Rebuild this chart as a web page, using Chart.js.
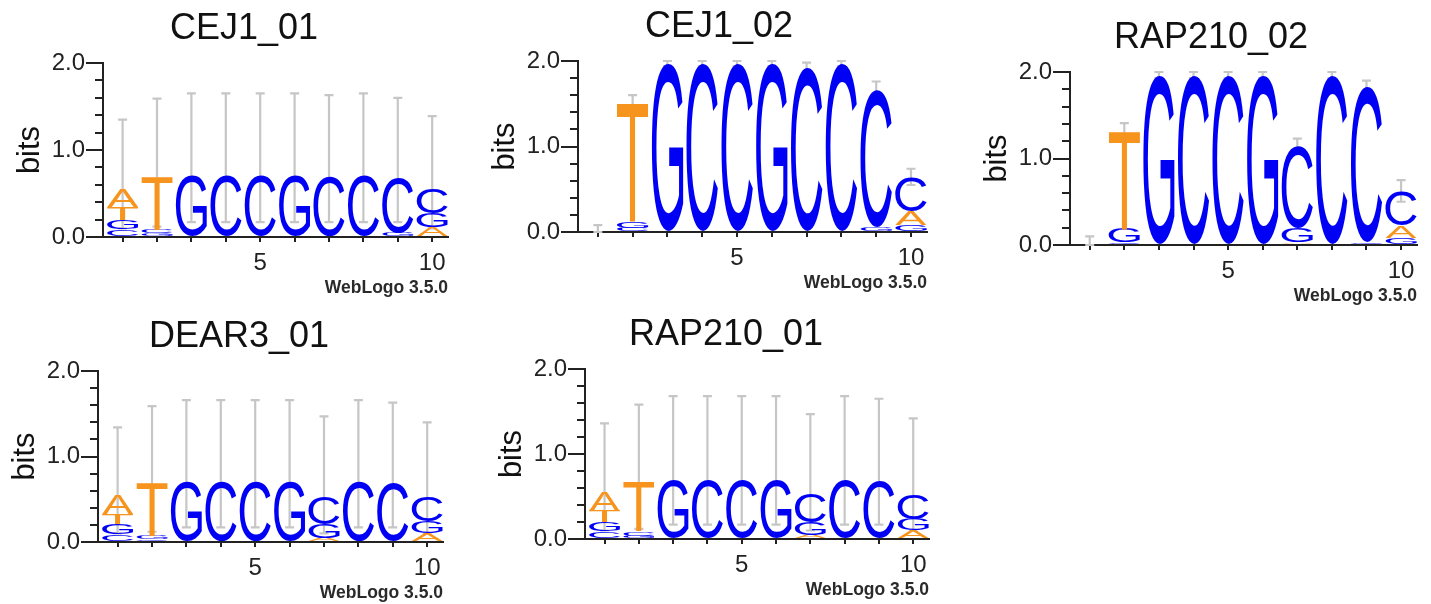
<!DOCTYPE html>
<html><head><meta charset="utf-8">
<script src="https://cdn.jsdelivr.net/npm/chart.js@4.4.1/dist/chart.umd.min.js"></script>
<style>
html,body{margin:0;padding:0;background:#fff;}
body{width:1431px;height:604px;position:relative;overflow:hidden;}
canvas{position:absolute;}
</style></head><body>
<canvas id="c1"></canvas><canvas id="c2"></canvas><canvas id="c3"></canvas><canvas id="c4"></canvas><canvas id="c5"></canvas>
<script>
// ---------- data ----------
const POSITIONS = [1, 2, 3, 4, 5, 6, 7, 8, 9, 10];
const X_TICK_LABELS = ['', '', '', '', '5', '', '', '', '', '10'];
const Y_MAJOR_TICKS = [0.0, 1.0, 2.0];
const Y_TICK_LABELS = ['0.0', '1.0', '2.0'];
const Y_MINOR_TICKS = [0.0, 0.2, 0.4, 0.6, 0.8, 1.0, 1.2, 1.4, 1.6, 1.8, 2.0];
const LETTERS = ['A', 'C', 'G', 'T'];
const TITLES = ['CEJ1_01', 'CEJ1_02', 'RAP210_02', 'DEAR3_01', 'RAP210_01'];
const FOOTER = 'WebLogo 3.5.0';
const Y_LABEL = 'bits';

// CEJ1_01
const CEJ1_01_A = [0.20, 0.01, 0.00, 0.00, 0.00, 0.00, 0.00, 0.00, 0.01, 0.11];
const CEJ1_01_C = [0.09, 0.04, 0.01, 0.71, 0.71, 0.00, 0.69, 0.71, 0.63, 0.29];
const CEJ1_01_G = [0.11, 0.03, 0.70, 0.00, 0.00, 0.71, 0.00, 0.00, 0.04, 0.16];
const CEJ1_01_T = [0.14, 0.60, 0.00, 0.00, 0.00, 0.00, 0.00, 0.00, 0.00, 0.00];
const CEJ1_01_ERR_LO = [0.10, 0.12, 0.17, 0.17, 0.17, 0.17, 0.17, 0.17, 0.17, 0.10];
const CEJ1_01_ERR_HI = [1.35, 1.59, 1.65, 1.65, 1.65, 1.65, 1.63, 1.65, 1.60, 1.39];

// CEJ1_02
const CEJ1_02_A = [0.005, 0.00, 0.00, 0.00, 0.00, 0.00, 0.00, 0.00, 0.01, 0.16];
const CEJ1_02_C = [0.005, 0.05, 0.00, 1.97, 1.97, 0.00, 1.93, 1.97, 1.60, 0.40];
const CEJ1_02_G = [0.005, 0.07, 1.97, 0.00, 0.00, 1.97, 0.00, 0.00, 0.05, 0.08];
const CEJ1_02_T = [0.005, 1.39, 0.00, 0.00, 0.00, 0.00, 0.00, 0.00, 0.00, 0.00];
const CEJ1_02_ERR_LO = [0.00, 1.44, 1.94, 1.94, 1.94, 1.94, 1.88, 1.94, 1.57, 0.55];
const CEJ1_02_ERR_HI = [0.08, 1.60, 2.00, 2.00, 2.00, 2.00, 1.98, 2.00, 1.76, 0.74];

// RAP210_02
const RAP210_02_A = [0.005, 0.00, 0.00, 0.00, 0.00, 0.00, 0.03, 0.00, 0.00, 0.14];
const RAP210_02_C = [0.005, 0.03, 0.00, 1.96, 1.96, 0.00, 0.95, 1.96, 1.79, 0.40];
const RAP210_02_G = [0.005, 0.16, 1.96, 0.00, 0.00, 1.96, 0.17, 0.00, 0.03, 0.08];
const RAP210_02_T = [0.005, 1.13, 0.00, 0.00, 0.00, 0.00, 0.00, 0.00, 0.00, 0.00];
const RAP210_02_ERR_LO = [0.00, 1.24, 1.93, 1.93, 1.93, 1.93, 1.07, 1.93, 1.74, 0.50];
const RAP210_02_ERR_HI = [0.10, 1.41, 2.00, 2.00, 2.00, 2.00, 1.23, 2.00, 1.90, 0.75];

// DEAR3_01
const DEAR3_01_A = [0.22, 0.00, 0.00, 0.00, 0.00, 0.00, 0.05, 0.00, 0.00, 0.10];
const DEAR3_01_C = [0.09, 0.03, 0.00, 0.71, 0.71, 0.00, 0.32, 0.71, 0.69, 0.29];
const DEAR3_01_G = [0.12, 0.04, 0.71, 0.00, 0.00, 0.71, 0.16, 0.00, 0.00, 0.14];
const DEAR3_01_T = [0.12, 0.62, 0.00, 0.00, 0.00, 0.00, 0.00, 0.00, 0.00, 0.00];
const DEAR3_01_ERR_LO = [0.10, 0.12, 0.17, 0.17, 0.17, 0.17, 0.10, 0.17, 0.17, 0.10];
const DEAR3_01_ERR_HI = [1.34, 1.59, 1.66, 1.66, 1.66, 1.66, 1.47, 1.66, 1.63, 1.40];

// RAP210_01
const RAP210_01_A = [0.22, 0.00, 0.00, 0.00, 0.00, 0.00, 0.05, 0.00, 0.00, 0.10];
const RAP210_01_C = [0.09, 0.05, 0.00, 0.70, 0.70, 0.00, 0.34, 0.70, 0.68, 0.29];
const RAP210_01_G = [0.11, 0.04, 0.70, 0.00, 0.00, 0.70, 0.15, 0.00, 0.00, 0.13];
const RAP210_01_T = [0.13, 0.57, 0.00, 0.00, 0.00, 0.00, 0.00, 0.00, 0.00, 0.00];
const RAP210_01_ERR_LO = [0.10, 0.12, 0.17, 0.17, 0.17, 0.17, 0.10, 0.17, 0.17, 0.10];
const RAP210_01_ERR_HI = [1.36, 1.58, 1.68, 1.68, 1.68, 1.68, 1.47, 1.68, 1.65, 1.42];

// ---------- styles / layout ----------
const FONT = '"Liberation Sans", Arial, Helvetica, sans-serif';
const LETTER_FONT = '200px ' + FONT;
const COLORS = { A: '#f7941d', T: '#f7941d', C: '#0000f5', G: '#0000f5' };
const AXIS = '#222';
const ERR_COLOR = '#c6c6c6';
// plot-area boxes [left, top, width, height]
const AREAS = [[103, 63, 345, 174], [578, 61, 349, 171], [1070, 72, 347, 173], [98, 371, 345, 171], [585, 369, 344, 170]];
const PAD_L = 4, Y_AXIS_W = 91, PAD_T = 60, PAD_R = 12, X_AXIS_H = 45, PAD_B = 20;

const PANELS = [
  { title: TITLES[0], v: { A: CEJ1_01_A, C: CEJ1_01_C, G: CEJ1_01_G, T: CEJ1_01_T }, lo: CEJ1_01_ERR_LO, hi: CEJ1_01_ERR_HI },
  { title: TITLES[1], v: { A: CEJ1_02_A, C: CEJ1_02_C, G: CEJ1_02_G, T: CEJ1_02_T }, lo: CEJ1_02_ERR_LO, hi: CEJ1_02_ERR_HI },
  { title: TITLES[2], v: { A: RAP210_02_A, C: RAP210_02_C, G: RAP210_02_G, T: RAP210_02_T }, lo: RAP210_02_ERR_LO, hi: RAP210_02_ERR_HI },
  { title: TITLES[3], v: { A: DEAR3_01_A, C: DEAR3_01_C, G: DEAR3_01_G, T: DEAR3_01_T }, lo: DEAR3_01_ERR_LO, hi: DEAR3_01_ERR_HI },
  { title: TITLES[4], v: { A: RAP210_01_A, C: RAP210_01_C, G: RAP210_01_G, T: RAP210_01_T }, lo: RAP210_01_ERR_LO, hi: RAP210_01_ERR_HI }
];

// stack order per position: smallest at bottom, tallest on top
function rankDatasets(p) {
  const ds = [0, 1, 2, 3].map(() => ({ data: [], letters: [], backgroundColor: 'rgba(0,0,0,0)', borderWidth: 0, xAxisID: 'x', yAxisID: 'y' }));
  POSITIONS.forEach((pos, i) => {
    const col = LETTERS.map(L => ({ L, v: p.v[L][i] })).sort((a, b) => a.v - b.v);
    col.forEach((e, r) => { ds[r].data.push({ x: pos, y: e.v }); ds[r].letters.push(e.L); });
  });
  return ds;
}

const glyphCache = {};
function glyph(ctx, L) {
  if (!glyphCache[L]) {
    ctx.save(); ctx.font = LETTER_FONT;
    const m = ctx.measureText(L); ctx.restore();
    glyphCache[L] = { l: m.actualBoundingBoxLeft, r: m.actualBoundingBoxRight, a: m.actualBoundingBoxAscent, d: m.actualBoundingBoxDescent };
  }
  return glyphCache[L];
}

const logoPlugin = {
  id: 'logo',
  beforeDatasetsDraw(chart, args, opts) {
    const ctx = chart.ctx, xs = chart.scales.x, ys = chart.scales.y, p = opts.panel;
    ctx.save();
    ctx.strokeStyle = ERR_COLOR; ctx.lineWidth = 2.2;
    POSITIONS.forEach((pos, i) => {
      const px = xs.getPixelForValue(pos);
      const y0 = ys.getPixelForValue(p.lo[i]), y1 = ys.getPixelForValue(p.hi[i]);
      ctx.beginPath();
      ctx.moveTo(px, y0); ctx.lineTo(px, y1);
      ctx.moveTo(px - 4.5, y1); ctx.lineTo(px + 4.5, y1);
      ctx.moveTo(px - 4.5, y0); ctx.lineTo(px + 4.5, y0);
      ctx.stroke();
    });
    ctx.restore();
  },
  afterDatasetsDraw(chart) {
    const ctx = chart.ctx;
    chart.data.datasets.forEach((ds, d) => {
      const meta = chart.getDatasetMeta(d);
      meta.data.forEach((bar, i) => {
        const { x, y, base, width } = bar.getProps(['x', 'y', 'base', 'width'], true);
        const h = base - y;
        if (!(h > 0.15)) return;
        const L = ds.letters[i], g = glyph(ctx, L);
        ctx.save();
        ctx.font = LETTER_FONT; ctx.fillStyle = COLORS[L];
        ctx.textAlign = 'left'; ctx.textBaseline = 'alphabetic';
        ctx.translate(x - width / 2, y);
        ctx.scale(width / (g.l + g.r), h / (g.a + g.d));
        ctx.fillText(L, g.l, g.a);
        ctx.restore();
      });
    });
  },
  afterDraw(chart, args, opts) {
    const ctx = chart.ctx, ca = chart.chartArea;
    ctx.save();
    ctx.fillStyle = '#111';
    ctx.font = '36px ' + FONT; ctx.textAlign = 'center'; ctx.textBaseline = 'middle';
    ctx.fillText(opts.panel.title, ca.left + 141, ca.top - 34);
    ctx.fillStyle = '#2a2a2a';
    ctx.font = 'bold 17.5px ' + FONT; ctx.textAlign = 'right'; ctx.textBaseline = 'alphabetic';
    ctx.fillText(FOOTER, ca.right, ca.bottom + 56);
    ctx.restore();
  }
};

PANELS.forEach((p, k) => {
  const [L, T, W, H] = AREAS[k];
  const cv = document.getElementById('c' + (k + 1));
  const cw = W + PAD_L + Y_AXIS_W + PAD_R, ch = H + PAD_T + X_AXIS_H + PAD_B;
  cv.width = cw; cv.height = ch;
  cv.style.left = (L - PAD_L - Y_AXIS_W) + 'px'; cv.style.top = (T - PAD_T) + 'px';
  cv.style.width = cw + 'px'; cv.style.height = ch + 'px';
  new Chart(cv, {
    type: 'bar',
    data: { datasets: rankDatasets(p) },
    plugins: [logoPlugin],
    options: {
      responsive: false, animation: false, events: [], devicePixelRatio: 1,
      layout: { padding: { left: PAD_L, top: PAD_T, right: PAD_R, bottom: PAD_B } },
      datasets: { bar: { categoryPercentage: 1, barPercentage: 0.9 } },
      plugins: { legend: { display: false }, tooltip: { enabled: false }, title: { display: false }, logo: { panel: p } },
      scales: {
        x: {
          type: 'linear', position: 'bottom', min: 0.43, max: 10.46, stacked: true, offset: false, bounds: 'data',
          afterBuildTicks: s => { s.ticks = POSITIONS.map(v => ({ value: v })); },
          afterFit: s => { s.height = X_AXIS_H; },
          grid: { display: true, drawOnChartArea: false, drawTicks: true, tickLength: 5, color: AXIS, lineWidth: 2, offset: false },
          border: { display: true, color: AXIS, width: 2 },
          ticks: { autoSkip: false, maxRotation: 0, minRotation: 0, padding: 7, color: '#222', font: { family: FONT, size: 24 }, callback: (v, i) => X_TICK_LABELS[i] }
        },
        y: {
          type: 'linear', position: 'left', weight: 1, min: 0, max: 2, stacked: true, bounds: 'data',
          afterBuildTicks: s => { s.ticks = Y_MAJOR_TICKS.map(v => ({ value: v })); },
          afterFit: s => { s.width = Y_AXIS_W; },
          grid: { display: true, drawOnChartArea: false, drawTicks: true, tickLength: 17, color: AXIS, lineWidth: 2 },
          border: { display: true, color: AXIS, width: 2 },
          ticks: { padding: 1, color: '#222', font: { family: FONT, size: 24 }, callback: (v, i) => Y_TICK_LABELS[i] },
          title: { display: true, text: Y_LABEL, color: '#111', font: { family: FONT, size: 31 }, padding: { top: 0, bottom: 0 } }
        },
        yMinor: {
          type: 'linear', position: 'left', weight: 0, min: 0, max: 2, bounds: 'data',
          afterBuildTicks: s => { s.ticks = Y_MINOR_TICKS.map(v => ({ value: v })); },
          afterFit: s => { s.width = 0; },
          grid: { display: true, drawOnChartArea: false, drawTicks: true, tickLength: 8, color: AXIS, lineWidth: 2 },
          border: { display: true, color: AXIS, width: 2 },
          ticks: { display: false }
        }
      }
    }
  });
});
</script>
</body></html>
